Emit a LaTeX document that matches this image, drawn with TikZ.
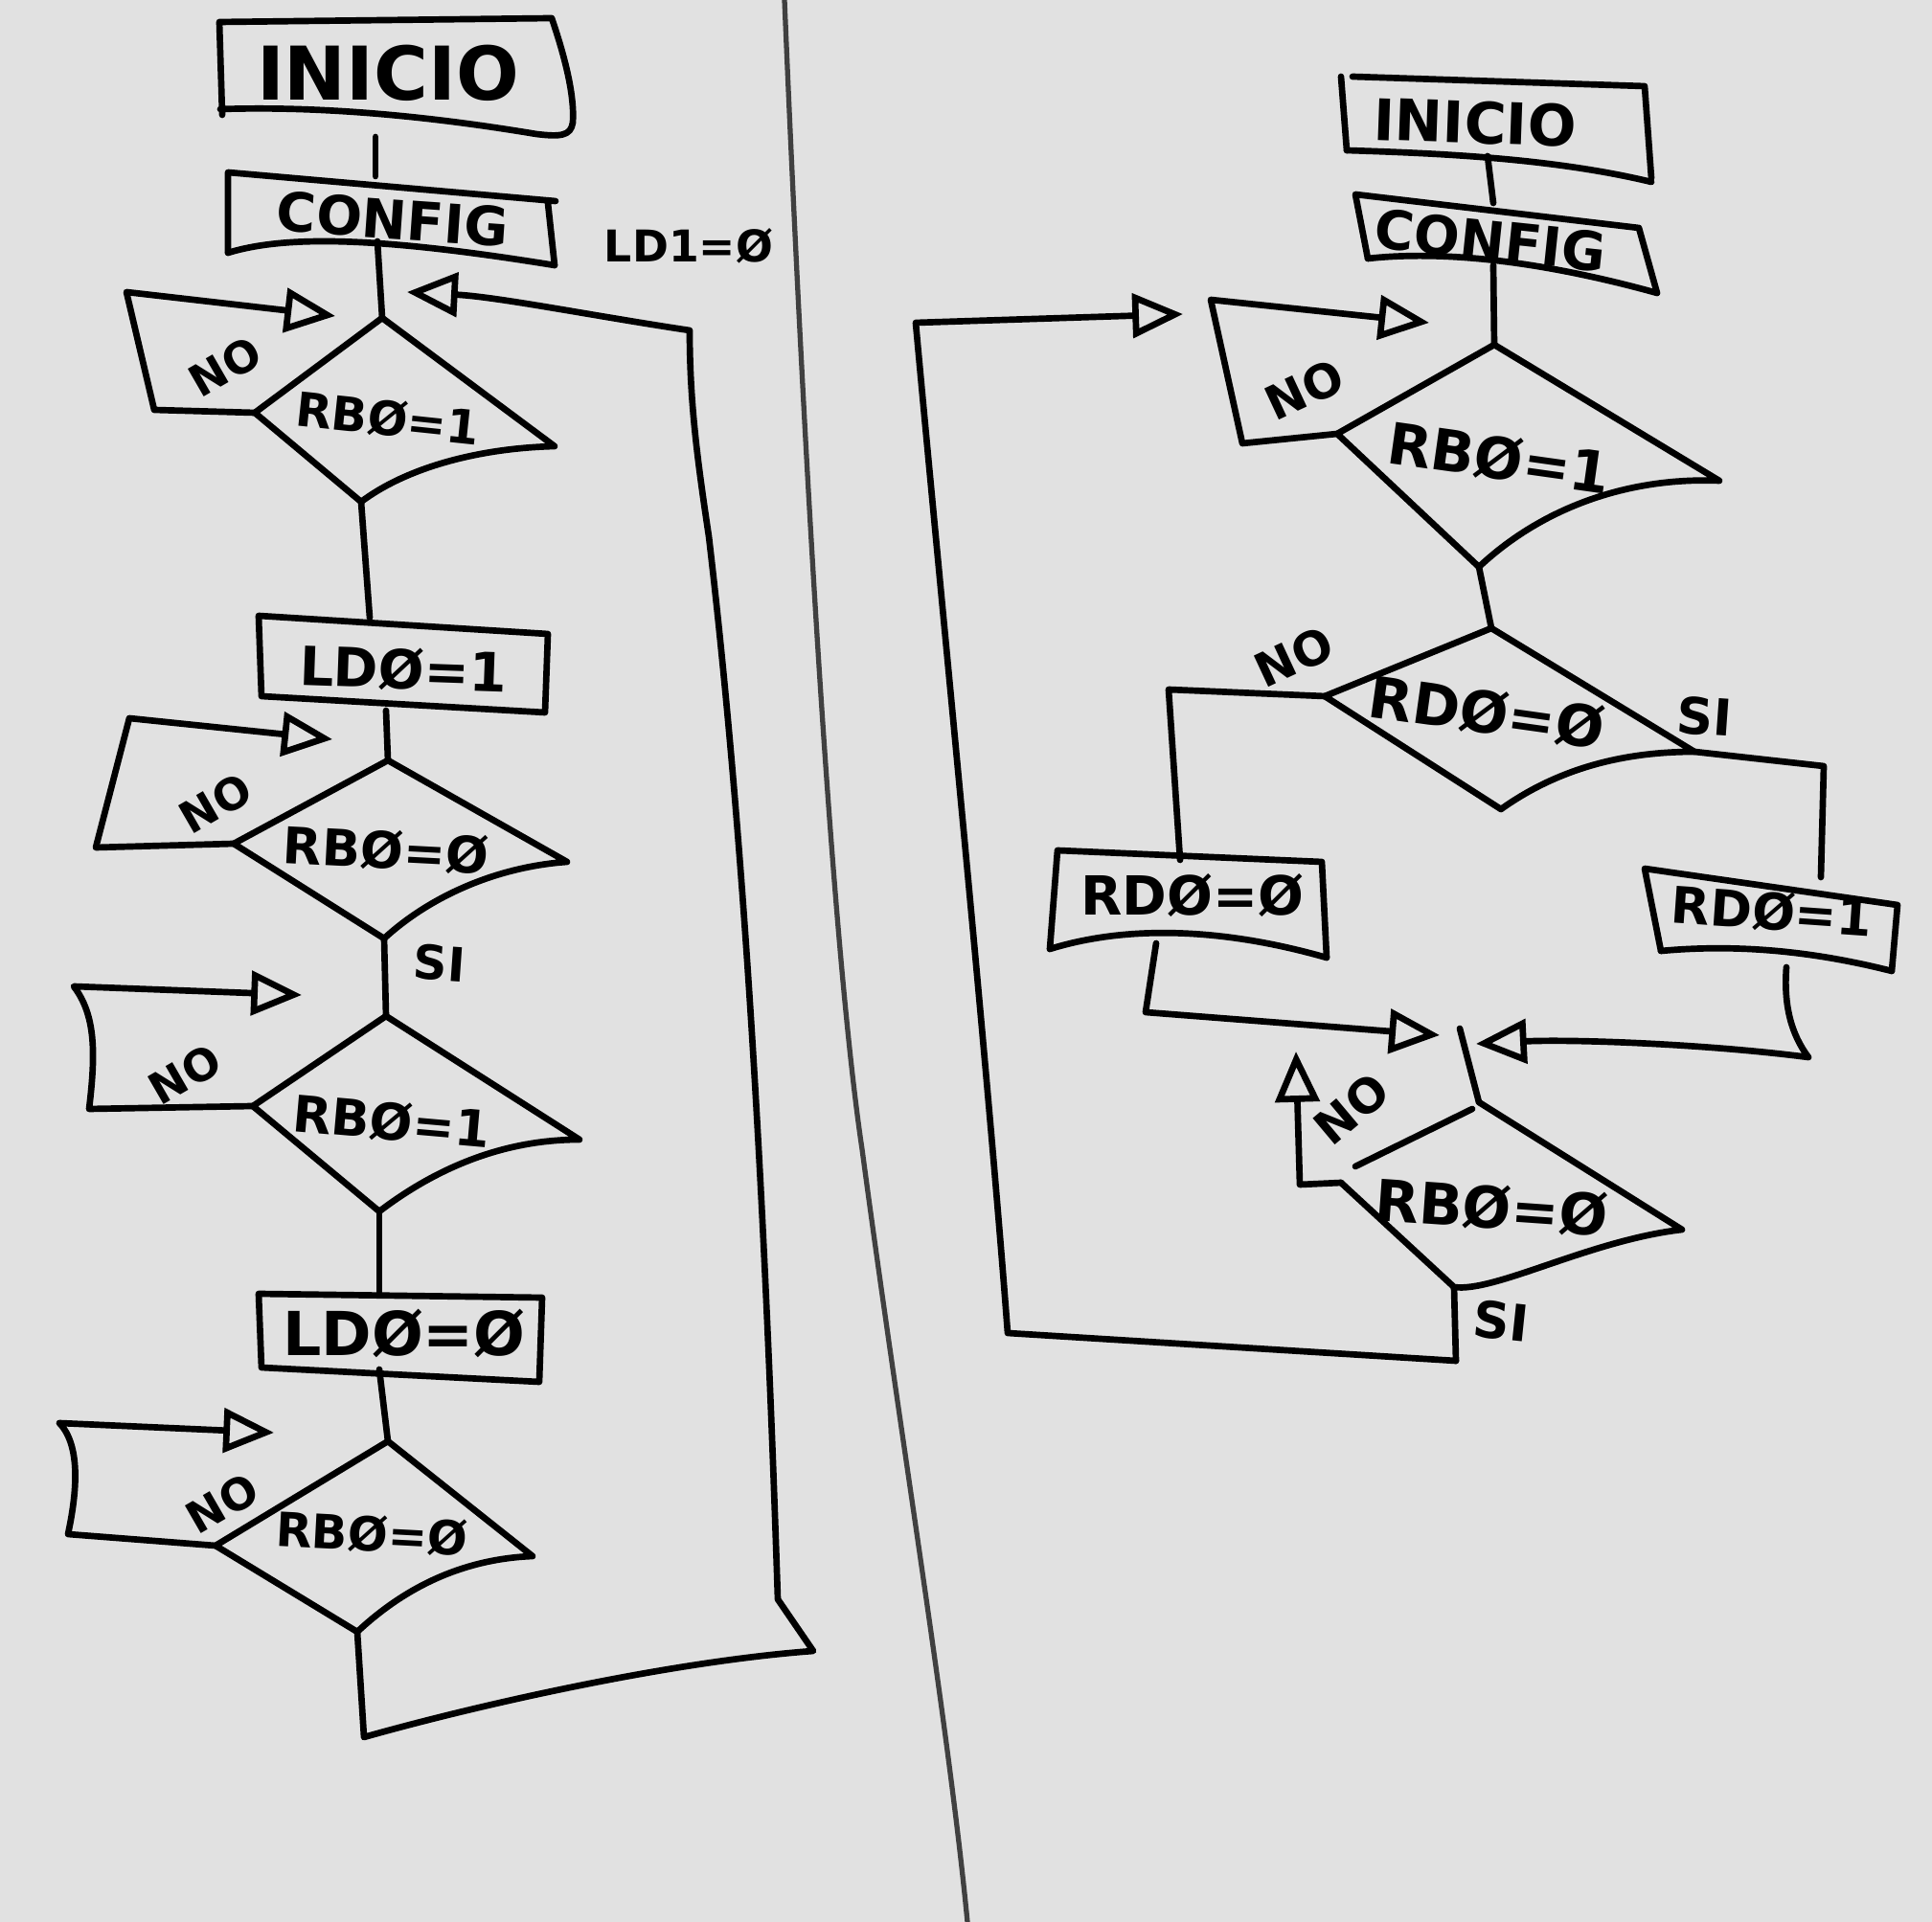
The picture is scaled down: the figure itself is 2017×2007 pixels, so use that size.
\documentclass[tikz,border=0pt]{standalone}
\usepackage{fontspec}
\setmainfont{DejaVu Sans}
\usetikzlibrary{arrows.meta}
\definecolor{paper}{HTML}{E1E1E1}
\tikzset{
  ln/.style={draw=black, line width=1.9pt, line join=round, line cap=round},
  arr/.style={ln, -{Triangle[open, length=15pt, width=13pt, line width=1.9pt]}},
  lbl/.style={inner sep=0pt, font=\bfseries\fontsize{#1}{#1}\selectfont},
  lbl/.default=14,
}
\begin{document}
\begin{tikzpicture}[x=0.01cm,y=-0.01cm]
\fill[paper] (0,0) rectangle (2017,2007);
\useasboundingbox (0,0) rectangle (2017,2007);

% ================= LEFT FLOWCHART =================
% INICIO
\draw[ln] (232,120) -- (229,23) -- (576,19) .. controls (590,60) and (600,100) .. (598,128)
  .. controls (596,142) and (585,143) .. (560,140) .. controls (470,125) and (350,110) .. (230,114);
\node[lbl=22] (tIniL) at (405,76) {INICIO};
\coordinate (iniLb) at (392,143);
\coordinate (cfgLt) at (392,184);
\draw[ln] (iniLb) -- (cfgLt);
% CONFIG
\draw[ln] (238,264) -- (238,180) -- (580,210);
\draw[ln] (572,212) -- (579,277);
\draw[ln] (238,264) .. controls (300,245) and (400,248) .. (579,277);
\node[lbl=16, rotate=-4] (tCfgL) at (410,229) {CONFIG};
\node[lbl=13] (tLd1) at (719,257) {LD1=Ø};
\coordinate (cfgLb) at (394,252);
% D1
\coordinate (d1t) at (399,332);
\coordinate (d1r) at (579,466);
\coordinate (d1b) at (377,524);
\coordinate (d1l) at (266,431);
\draw[ln] (d1l) -- (d1t) -- (d1r) .. controls (500,468) and (425,488) .. (d1b) -- cycle;
\node[lbl=14, rotate=-6] (tD1) at (405,437) {RBØ=1};
\draw[ln] (cfgLb) -- (d1t);
% NO loop 1
\coordinate (n1a) at (161,428);
\coordinate (n1b) at (132,305);
\coordinate (a1) at (350,330);
\draw[arr] (d1l) -- (n1a) -- (n1b) -- (a1);
\node[lbl=13, rotate=30] (tNo1) at (235,383) {NO};
% LD0=1
\coordinate (ld1t) at (386,645);
\draw[ln] (d1b) -- (ld1t);
\draw[ln] (270,643) -- (572,662) -- (569,744) -- (273,727) -- cycle;
\node[lbl=16, rotate=-2] (tLd01) at (421,699) {LDØ=1};
\coordinate (ld1b) at (403,742);
% D2
\coordinate (d2t) at (405,794);
\coordinate (d2r) at (592,900);
\coordinate (d2b) at (401,980);
\coordinate (d2l) at (244,881);
\draw[ln] (ld1b) -- (d2t);
\draw[ln] (d2l) -- (d2t) -- (d2r) .. controls (520,905) and (450,935) .. (d2b) -- cycle;
\node[lbl=15, rotate=-3] (tD2) at (403,888) {RBØ=Ø};
\coordinate (n2a) at (100,885);
\coordinate (n2b) at (135,750);
\coordinate (a2) at (347,772);
\draw[arr] (d2l) -- (n2a) -- (n2b) -- (a2);
\node[lbl=13, rotate=30] (tNo2) at (225,839) {NO};
\node[lbl=14, rotate=-4] (tSi1) at (459,1006) {SI};
% D3
\coordinate (d3t) at (403,1061);
\coordinate (d3r) at (605,1190);
\coordinate (d3b) at (396,1265);
\coordinate (d3l) at (264,1155);
\draw[ln] (d2b) -- (d3t);
\draw[ln] (d3l) -- (d3t) -- (d3r) .. controls (525,1190) and (455,1220) .. (d3b) -- cycle;
\node[lbl=15, rotate=-5] (tD3) at (409,1171) {RBØ=1};
\coordinate (n3a) at (93,1158);
\coordinate (n3b) at (77,1030);
\coordinate (a3) at (315,1039);
\draw[arr] (d3l) -- (n3a) .. controls (100,1100) and (100,1060) .. (n3b) -- (a3);
\node[lbl=13, rotate=30] (tNo3) at (193,1122) {NO};
% LD0=0
\coordinate (ld0t) at (396,1351);
\draw[ln] (d3b) -- (ld0t);
\draw[ln] (270,1351) -- (566,1355) -- (563,1443) -- (273,1428) -- cycle;
\node[lbl=18] (tLd00) at (422,1392) {LDØ=Ø};
\coordinate (ld0b) at (396,1430);
% D4
\coordinate (d4t) at (405,1505);
\coordinate (d4r) at (556,1625);
\coordinate (d4b) at (373,1704);
\coordinate (d4l) at (225,1614);
\draw[ln] (ld0b) -- (d4t);
\draw[ln] (d4l) -- (d4t) -- (d4r) .. controls (480,1628) and (420,1660) .. (d4b) -- cycle;
\node[lbl=14, rotate=-3] (tD4) at (388,1602) {RBØ=Ø};
\coordinate (n4a) at (71,1602);
\coordinate (n4b) at (62,1486);
\coordinate (a4) at (286,1496);
\draw[arr] (d4l) -- (n4a) .. controls (80,1560) and (85,1510) .. (n4b) -- (a4);
\node[lbl=13, rotate=30] (tNo4) at (232,1570) {NO};
% return loop
\coordinate (lp1) at (380,1814);
\coordinate (lp2) at (849,1724);
\coordinate (lp3) at (812,1670);
\coordinate (lp4) at (720,345);
\coordinate (a0) at (425,305);
\draw[arr] (d4b) -- (lp1) .. controls (500,1780) and (700,1735) .. (lp2) -- (lp3)
  .. controls (800,1300) and (780,900) .. (740,560) .. controls (728,480) and (720,420) .. (lp4)
  .. controls (620,330) and (520,310) .. (a0);

% ================= DIVIDER =================
\draw[line width=1.5pt, black!75, line cap=round] (819,0) .. controls (840,500) and (870,1000) .. (900,1200)
  .. controls (940,1500) and (990,1800) .. (1010,2007);

% ================= RIGHT FLOWCHART =================
% INICIO
\draw[ln] (1400,80) -- (1406,157);
\draw[ln] (1412,80) -- (1717,90) -- (1724,186);
\draw[ln] (1406,157) .. controls (1500,160) and (1620,165) .. (1724,190);
\node[lbl=17, rotate=-2] (tIniR) at (1540,128) {INICIO};
\coordinate (iniRb) at (1553,163);
\coordinate (cfgRt) at (1559,212);
\draw[ln] (iniRb) -- (cfgRt);
% CONFIG
\draw[ln] (1428,270) -- (1415,203) -- (1711,238) -- (1730,306);
\draw[ln] (1428,270) .. controls (1500,262) and (1600,270) .. (1730,306);
\node[lbl=16, rotate=-6] (tCfgR) at (1556,251) {CONFIG};
\coordinate (cfgRb) at (1559,277);
% DR1
\coordinate (dr1t) at (1560,360);
\coordinate (dr1r) at (1795,502);
\coordinate (dr1b) at (1544,592);
\coordinate (dr1l) at (1396,453);
\draw[ln] (cfgRb) -- (dr1t);
\draw[ln] (dr1l) -- (dr1t) -- (dr1r) .. controls (1700,498) and (1610,530) .. (dr1b) -- cycle;
\node[lbl=17, rotate=-8] (tDR1) at (1565,478) {RBØ=1};
\coordinate (nr1a) at (1297,463);
\coordinate (nr1b) at (1264,313);
\coordinate (ar1) at (1492,337);
\draw[arr] (dr1l) -- (nr1a) -- (nr1b) -- (ar1);
\node[lbl=14, rotate=25] (tNoR1) at (1362,407) {NO};
% DR2
\coordinate (dr2t) at (1557,656);
\coordinate (dr2r) at (1769,785);
\coordinate (dr2b) at (1567,845);
\coordinate (dr2l) at (1383,727);
\draw[ln] (dr1b) -- (dr2t);
\draw[ln] (dr2l) -- (dr2t) -- (dr2r) .. controls (1700,785) and (1630,800) .. (dr2b) -- cycle;
\node[lbl=17, rotate=-8] (tDR2) at (1552,744) {RDØ=Ø};
\node[lbl=14, rotate=25] (tNoR2) at (1351,686) {NO};
\node[lbl=15, rotate=-4] (tSiR2) at (1780,748) {SI};
% branches
\coordinate (br0a) at (1220,720);
\coordinate (rd0t) at (1232,898);
\draw[ln] (dr2l) -- (br0a) -- (rd0t);
\coordinate (br1a) at (1904,800);
\coordinate (rd1t) at (1901,916);
\draw[ln] (dr2r) -- (br1a) -- (rd1t);
% RD0=0 box
\draw[ln] (1096,991) -- (1104,888) -- (1380,900) -- (1385,1000);
\draw[ln] (1096,991) .. controls (1180,965) and (1280,970) .. (1385,1000);
\node[lbl=16] (tRd0) at (1245,935) {RDØ=Ø};
% RD0=1 box
\draw[ln] (1734,993) -- (1717,907) -- (1981,945) -- (1975,1014);
\draw[ln] (1734,993) .. controls (1820,985) and (1900,995) .. (1975,1014);
\node[lbl=15, rotate=-4] (tRd1) at (1850,952) {RDØ=1};
% merge
\coordinate (rd0b) at (1207,985);
\coordinate (m0a) at (1196,1057);
\coordinate (am0) at (1503,1081);
\draw[arr] (rd0b) -- (m0a) -- (am0);
\coordinate (rd1b) at (1865,1010);
\coordinate (m1a) at (1888,1104);
\coordinate (am1) at (1541,1090);
\draw[arr] (rd1b) .. controls (1862,1050) and (1870,1080) .. (m1a) .. controls (1780,1090) and (1640,1085) .. (am1);
\coordinate (mt) at (1524,1074);
% DR3
\coordinate (dr3t) at (1544,1151);
\coordinate (dr3r) at (1756,1284);
\coordinate (dr3b) at (1518,1344);
\coordinate (dr3l) at (1400,1235);
\draw[ln] (mt) -- (dr3t);
\draw[ln] (1415,1218) -- (1537,1158);
\draw[ln] (dr3t) -- (dr3r) .. controls (1660,1295) and (1560,1350) .. (dr3b) -- (dr3l);
\node[lbl=17, rotate=-4] (tDR3) at (1557,1261) {RBØ=Ø};
\coordinate (nr3a) at (1357,1237);
\coordinate (ar3) at (1353,1098);
\draw[arr] (dr3l) -- (nr3a) -- (ar3);
\node[lbl=14, rotate=40] (tNoR3) at (1411,1158) {NO};
\coordinate (sr3) at (1520,1421);
\draw[ln] (dr3b) -- (sr3);
\node[lbl=15, rotate=-6] (tSiR3) at (1567,1379) {SI};
% loop back
\coordinate (lr1) at (1052,1392);
\coordinate (lr2) at (956,337);
\coordinate (ar0) at (1235,328);
\draw[arr] (sr3) -- (lr1) .. controls (1030,1100) and (980,600) .. (lr2) -- (ar0);
\end{tikzpicture}
\end{document}
